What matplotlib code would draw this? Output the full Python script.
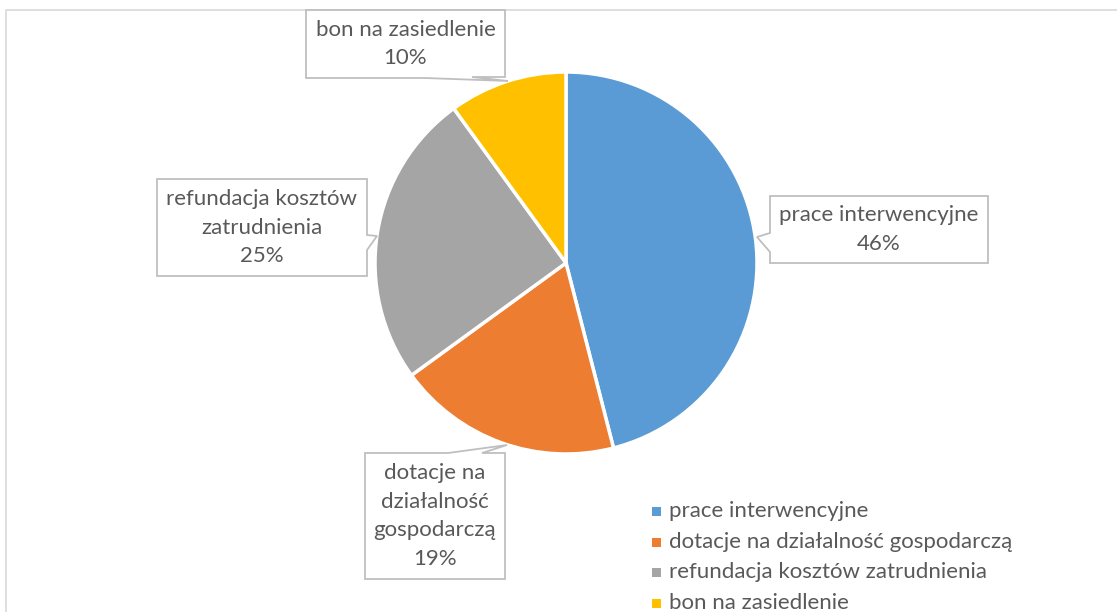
import matplotlib
matplotlib.use("Agg")
import matplotlib.pyplot as plt
from matplotlib.patches import Polygon, Rectangle

categories = ["prace interwencyjne", "dotacje na działalność gospodarczą",
              "refundacja kosztów zatrudnienia", "bon na zasiedlenie"]
values = [46, 19, 25, 10]
box_labels = ["prace interwencyjne", "dotacje na\ndziałalność\ngospodarczą",
              "refundacja kosztów\nzatrudnienia", "bon na zasiedlenie"]
colors = ["#5B9BD5", "#ED7D31", "#A5A5A5", "#FFC000"]

W, H = 1117, 612
fig = plt.figure(figsize=(W / 100, H / 100), dpi=100)
ax = fig.add_axes([0, 0, 1, 1])
ax.set_xlim(0, W)
ax.set_ylim(0, H)
ax.set_aspect("equal")
ax.axis("off")

FONT = "Lato"
TXT = "#595959"
EDGE = "#BFBFBF"
FS = 16

def Y(py):
    return H - py

# chart border
ax.plot([6, 6, W + 5], [Y(H + 5), Y(10), Y(10)], color="#D9D9D9", lw=1.2, clip_on=False)

cx, cy, r = 566, 263, 191
ax.pie(values, colors=colors, startangle=90, counterclock=False,
       center=(cx, Y(cy)), radius=r, frame=True,
       wedgeprops=dict(edgecolor="white", linewidth=2.5))
ax.set_xlim(0, W)
ax.set_ylim(0, H)
ax.axis("off")

# callout boxes (pixel layout)
boxes = [
    # prace interwencyjne
    dict(poly=[(770, 196), (988, 196), (988, 263), (770, 263), (770, 252), (757, 237), (770, 233)],
         cx=879, cy=229.5),
    # dotacje
    dict(poly=[(365, 453), (448, 453), (507, 445), (482, 453), (505, 453), (505, 579), (365, 579)],
         cx=435, cy=516),
    # refundacja
    dict(poly=[(157, 179), (367, 179), (367, 235), (377, 236), (367, 250), (367, 276), (157, 276)],
         cx=262, cy=227.5),
    # bon
    dict(poly=[(306, 10), (505, 10), (505, 77), (472, 77), (508, 81), (425, 78), (306, 78)],
         cx=405.5, cy=44),
]
for b, lab, v in zip(boxes, box_labels, values):
    pts = [(x, Y(y)) for x, y in b["poly"]]
    ax.add_patch(Polygon(pts, closed=True, facecolor="white", edgecolor=EDGE, lw=1.3, zorder=5))
    ax.text(b["cx"], Y(b["cy"]), f"{lab}\n{v}%", ha="center", va="center",
            fontsize=FS, family=FONT, color=TXT, linespacing=1.55, zorder=6)

# legend
leg_y = [511, 542, 572, 603]
for c, lab, ly in zip(colors, categories, leg_y):
    ax.add_patch(Rectangle((652, Y(ly) - 4.5), 9, 9, facecolor=c, edgecolor="none", zorder=6))
    ax.text(669, Y(ly), lab, ha="left", va="center", fontsize=FS, family=FONT,
            color=TXT, zorder=6)

fig.savefig("out.png", dpi=100)
